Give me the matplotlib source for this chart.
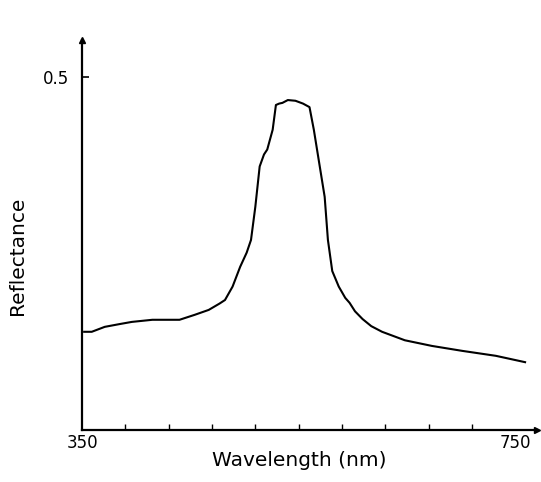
import matplotlib
matplotlib.use("Agg")
import matplotlib.pyplot as plt

wavelength = [352, 359, 371, 385, 396, 415, 440, 454, 467, 477, 482, 489, 496, 502,
              506, 510, 514, 518, 521, 526, 529, 532, 535, 540, 547, 554, 560, 564,
              570, 574, 577, 581, 587, 593, 597, 602, 609, 617, 627, 648, 673, 701,
              732, 759]
reflectance = [0.139, 0.139, 0.146, 0.150, 0.153, 0.156, 0.156, 0.163, 0.170, 0.179,
               0.184, 0.203, 0.231, 0.251, 0.269, 0.316, 0.373, 0.390, 0.397, 0.425,
               0.460, 0.462, 0.463, 0.467, 0.466, 0.462, 0.457, 0.425, 0.368, 0.330,
               0.269, 0.225, 0.203, 0.187, 0.180, 0.168, 0.157, 0.147, 0.139, 0.127,
               0.119, 0.112, 0.105, 0.096]
minor_ticks = [390, 430, 470, 510, 550, 590, 630, 670, 710]
x_labels = [350, 750]
y_labels = [0.5]

fig = plt.figure(figsize=(5.41, 4.82), dpi=100)
ax = fig.add_axes([82/541, 1-430/482, (537-82)/541, (430-40)/482])
ax.plot(wavelength, reflectance, color="black", lw=1.5)
ax.set_xlim(350, 770)
ax.set_ylim(0, 0.552)
for s in ["top", "right"]:
    ax.spines[s].set_visible(False)
for s in ["left", "bottom"]:
    ax.spines[s].set_linewidth(1.6)
ax.plot(1, 0, ">k", transform=ax.transAxes, clip_on=False, ms=5)
ax.plot(0, 1, "^k", transform=ax.transAxes, clip_on=False, ms=5)

ax.set_xticks(x_labels)
ax.set_xticklabels([str(v) for v in x_labels], fontsize=12)
ax.set_xticks(minor_ticks, minor=True)
ax.tick_params(axis="x", which="major", length=0, pad=3)
ax.tick_params(axis="x", which="minor", direction="in", length=4, width=1)
ax.set_yticks(y_labels)
ax.set_yticklabels([str(v) for v in y_labels], fontsize=12)
ax.tick_params(axis="y", direction="in", length=5, width=1.2, pad=9)

fig.text(299/541, 1-461/482, "Wavelength (nm)", fontsize=14.5, ha="center", va="center")
fig.text(18/541, 1-256/482, "Reflectance", fontsize=14.5, rotation=90,
         ha="center", va="center")
fig.savefig("out.png", dpi=100)
